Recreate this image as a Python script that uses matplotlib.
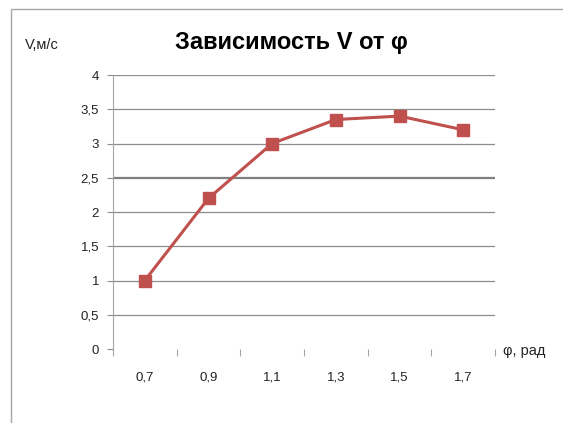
import numpy as np
import matplotlib.pyplot as plt
from matplotlib.patches import Rectangle

# data
phi_labels = ["0,7", "0,9", "1,1", "1,3", "1,5", "1,7"]
speed = [1.0, 2.2, 3.0, 3.35, 3.4, 3.2]
y_ticks = [0, 0.5, 1, 1.5, 2, 2.5, 3, 3.5, 4]
y_labels = ["0", "0,5", "1", "1,5", "2", "2,5", "3", "3,5", "4"]

plt.rcParams["font.family"] = ["Liberation Sans", "DejaVu Sans"]

W, H = 563, 423
fig = plt.figure(figsize=(W / 100, H / 100), dpi=100)

# outer chart frame (Excel style)
fig.patches.append(Rectangle((11 / W, -0.1), 1.2, 1.1 - 9 / H, transform=fig.transFigure,
                             fill=False, edgecolor="#a6a6a6", linewidth=1.0))

ax = fig.add_axes([113 / W, 1 - 349 / H, (495 - 113) / W, (349 - 75) / H])

x = np.arange(len(speed))
ax.plot(x, speed, color="#c0504d", linewidth=2.2, marker="s", markersize=8,
        markeredgecolor="#c0504d", markerfacecolor="#c0504d", zorder=3)

ax.set_xlim(-0.5, len(speed) - 0.5)
ax.set_ylim(0, 4)

for v in y_ticks[1:]:
    if v == 2.5:
        ax.axhline(v, color="#7f7f7f", linewidth=1.6, zorder=1)
    else:
        ax.axhline(v, color="#8c8c8c", linewidth=0.9, zorder=1)

ax.set_yticks(y_ticks)
ax.set_yticklabels(y_labels, fontsize=9.5)
ax.tick_params(axis="y", length=4, color="#8c8c8c", pad=6, labelcolor="#222222")

ax.set_xticks(np.arange(len(speed) + 1) - 0.5)
ax.set_xticklabels([])
ax.tick_params(axis="x", length=5, color="#a6a6a6", width=0.8)
ax.set_xticks(x, minor=True)
ax.set_xticklabels(phi_labels, minor=True, fontsize=9.5, color="#222222")
ax.tick_params(axis="x", which="minor", length=0, pad=16)

for s in ["top", "right", "bottom"]:
    ax.spines[s].set_visible(False)
ax.spines["left"].set_color("#a6a6a6")
ax.spines["left"].set_bounds(-0.03, 4)

fig.text(291 / W, 1 - 43 / H, "Зависимость V от φ", fontsize=17, fontweight="bold",
         ha="center", va="center")
fig.text(25 / W, 1 - 45 / H, "V,м/с", fontsize=10.5, ha="left", va="center", color="#222222")
fig.text(503 / W, 1 - 351 / H, "φ, рад", fontsize=10.5, ha="left", va="center", color="#222222")

fig.savefig("out.png", dpi=100)
